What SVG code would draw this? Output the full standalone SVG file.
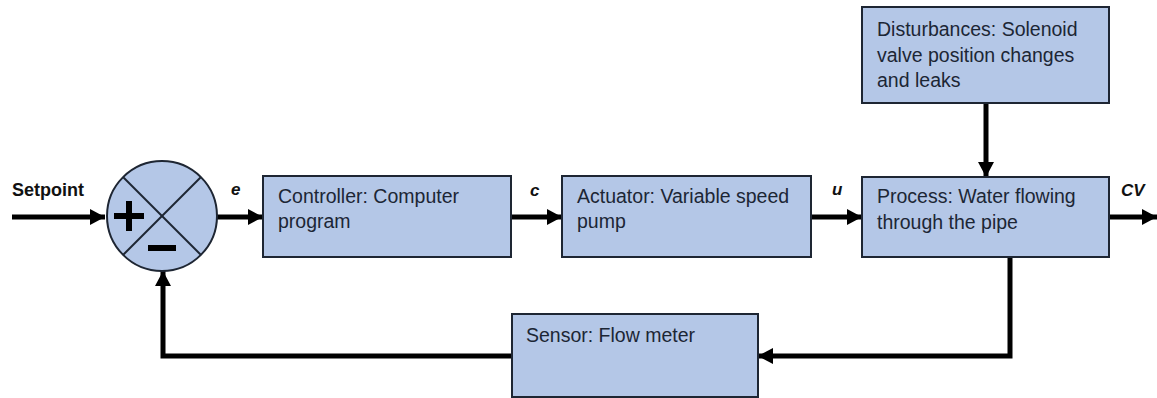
<svg xmlns="http://www.w3.org/2000/svg" width="1157" height="398" viewBox="0 0 1157 398">
  <style>
    .box { fill: #b4c7e7; stroke: #1e2633; stroke-width: 2; }
    .txt { font-family: "Liberation Sans", Arial, sans-serif; font-size: 19.5px; fill: #1c2635; }
    .sig { font-family: "Liberation Sans", Arial, sans-serif; font-size: 17px; font-weight: bold; font-style: italic; fill: #111; }
    .lbl { font-family: "Liberation Sans", Arial, sans-serif; font-size: 18px; font-weight: bold; fill: #111; }
    .wire { fill: none; stroke: #000; stroke-width: 5; }
    .sign { fill: #000; }
  </style>
  <defs>
    <marker id="arrow" markerUnits="userSpaceOnUse" markerWidth="15" markerHeight="16" refX="15" refY="8" orient="auto">
      <path d="M0,0 L15,8 L0,16 Z" fill="#000"/>
    </marker>
  </defs>

  <!-- signal lines -->
  <g id="connectors">
    <line class="wire" x1="12" y1="217" x2="105" y2="217" marker-end="url(#arrow)"/>
    <line class="wire" x1="217" y1="217" x2="263" y2="217" marker-end="url(#arrow)"/>
    <line class="wire" x1="511" y1="217" x2="562" y2="217" marker-end="url(#arrow)"/>
    <line class="wire" x1="811" y1="217" x2="862" y2="217" marker-end="url(#arrow)"/>
    <line class="wire" x1="1109" y1="217" x2="1157" y2="217" marker-end="url(#arrow)"/>
    <line class="wire" x1="986" y1="103" x2="986" y2="177" marker-end="url(#arrow)"/>
    <polyline class="wire" points="1010,257 1010,356 758,356" marker-end="url(#arrow)"/>
    <polyline class="wire" points="512,356 163,356 163,271" marker-end="url(#arrow)"/>
  </g>

  <!-- signal labels -->
  <g id="labels">
    <text class="lbl" x="12" y="196">Setpoint</text>
    <text class="sig" x="231" y="195">e</text>
    <text class="sig" x="530" y="196">c</text>
    <text class="sig" x="832" y="195">u</text>
    <text class="sig" x="1121" y="196">CV</text>
  </g>

  <!-- summing junction -->
  <g id="sum">
    <circle class="box" cx="162" cy="216" r="55"/>
    <line x1="123" y1="177" x2="201" y2="255" stroke="#1e2633" stroke-width="2"/>
    <line x1="201" y1="177" x2="123" y2="255" stroke="#1e2633" stroke-width="2"/>
    <rect class="sign" x="114" y="213" width="30" height="6"/>
    <rect class="sign" x="126" y="201" width="6" height="30"/>
    <rect class="sign" x="148" y="245" width="28" height="6"/>
  </g>

  <g id="controller">
    <rect class="box" x="263" y="176" width="248" height="81"/>
    <text class="txt" x="278" y="203">Controller: Computer</text>
    <text class="txt" x="278" y="228">program</text>
  </g>

  <g id="actuator">
    <rect class="box" x="562" y="176" width="249" height="81"/>
    <text class="txt" x="577" y="203">Actuator: Variable speed</text>
    <text class="txt" x="577" y="228">pump</text>
  </g>

  <g id="process">
    <rect class="box" x="862" y="177" width="247" height="80"/>
    <text class="txt" x="877" y="203">Process: Water flowing</text>
    <text class="txt" x="877" y="229">through the pipe</text>
  </g>

  <g id="disturbances">
    <rect class="box" x="862" y="7" width="247" height="96"/>
    <text class="txt" x="877" y="36">Disturbances: Solenoid</text>
    <text class="txt" x="877" y="61.5">valve position changes</text>
    <text class="txt" x="877" y="87">and leaks</text>
  </g>

  <g id="sensor">
    <rect class="box" x="512" y="314" width="246" height="83"/>
    <text class="txt" x="526" y="342">Sensor: Flow meter</text>
  </g>
</svg>
